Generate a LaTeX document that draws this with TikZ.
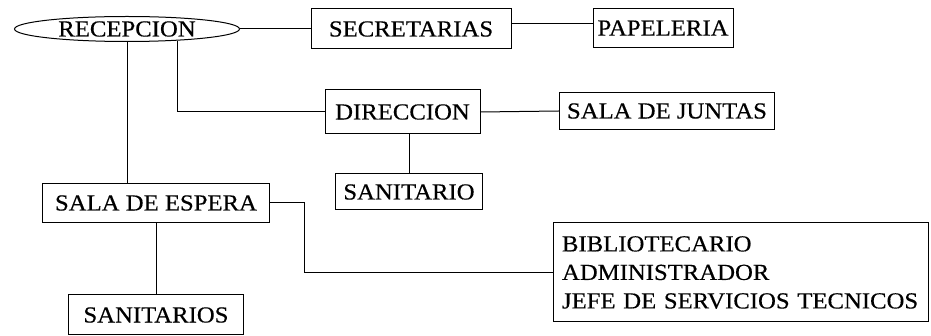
\documentclass[tikz,border=0pt]{standalone}
\usepackage{fontspec}
\setmainfont{Liberation Serif}[FakeStretch=1.075,FakeBold=0.4]
\usetikzlibrary{shapes.geometric}
\begin{document}
\begin{tikzpicture}[x=1pt,y=-1pt,
  every node/.style={font=\fontsize{23}{28.5}\selectfont, line width=1pt},
  box/.style={draw, rectangle, inner sep=0pt},
  link/.style={draw, line width=1pt}]
\useasboundingbox (0,0) rectangle (931,336);
\node[draw, ellipse, inner sep=0pt, minimum width=225pt, minimum height=25pt] (rec) at (127,29) {RECEPCION};
\node[box, minimum width=200pt, minimum height=40pt] (sec) at (411,29) {SECRETARIAS};
\node[box, minimum width=140pt, minimum height=39pt] (pap) at (663,28) {PAPELERIA};
\node[box, minimum width=155pt, minimum height=44pt] (dir) at (402.5,112) {DIRECCION};
\node[box, minimum width=215pt, minimum height=37pt] (junt) at (667,111) {SALA DE JUNTAS};
\node[box, minimum width=147pt, minimum height=36pt] (sanit) at (409,192) {SANITARIO};
\node[box, minimum width=227pt, minimum height=39pt] (esp) at (156,203) {SALA DE ESPERA};
\node[box, minimum width=175pt, minimum height=40pt] (sanits) at (156,315) {SANITARIOS};
\node[box, inner xsep=9pt, text width=357pt, align=left, minimum height=99pt] (bib) at (740.5,272.5)
  {\mbox{BIBLIOTECARIO}\\\mbox{ADMINISTRADOR}\\\mbox{JEFE DE SERVICIOS TECNICOS}};
\draw[link] (rec.east) -- (sec.west);
\draw[link] ([yshift=5pt]sec.east) -- ([yshift=4pt]pap.west);
\draw[link] (rec.south) -- (rec.south |- esp.north);
\draw[link] (rec.-13) |- (dir.west);
\draw[link] (dir.east) -- (junt.west);
\draw[link] (sanit.north |- dir.south) -- (sanit.north);
\draw[link] (esp.south) -- (sanits.north);
\draw[link] (esp.east) -- ++(34,0) |- (bib.west);
\end{tikzpicture}
\end{document}
